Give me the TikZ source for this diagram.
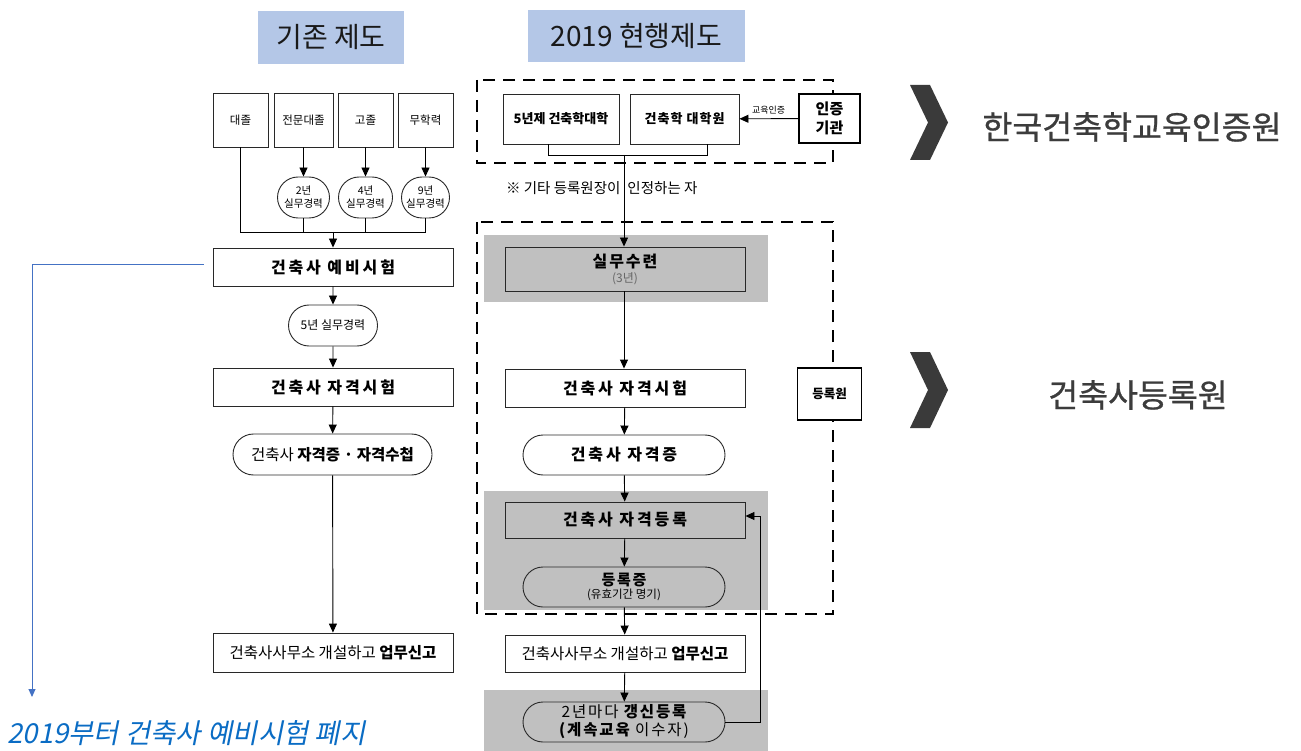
\documentclass[tikz,border=0pt]{standalone}
\usepackage{fontspec}
\setmainfont{Noto Sans CJK KR}
\newfontfamily\kr{Noto Sans CJK KR}
\newfontfamily\krsp{Noto Sans CJK KR}[LetterSpace=18]
\newfontfamily\krspb{Noto Sans CJK KR}[LetterSpace=12]
\newfontfamily\krsps{Noto Sans CJK KR}[LetterSpace=8]
\newfontfamily\krit{Noto Sans CJK KR}[FakeSlant=0.2]
\newfontfamily\krmed{Noto Sans CJK KR}[FakeBold=0.8]
\usetikzlibrary{arrows.meta,shapes.misc,calc}
\definecolor{titleblue}{RGB}{180,199,231}
\definecolor{bandgray}{RGB}{192,192,192}
\definecolor{boxline}{RGB}{40,40,40}
\definecolor{chevgray}{RGB}{58,58,58}
\definecolor{labelgray}{RGB}{60,60,60}
\definecolor{linkblue}{RGB}{68,114,196}
\definecolor{noteblue}{RGB}{10,108,196}
\newcommand{\fs}[1]{\fontsize{#1}{\the\dimexpr #1pt*12/10\relax}\selectfont}
\newcommand{\fsl}[2]{\fontsize{#1}{#2}\selectfont}
\tikzset{
  box/.style={draw=boxline, line width=0.9pt, inner sep=0pt, align=center},
  pill/.style={rounded rectangle, draw=boxline, line width=0.9pt, inner sep=0pt, align=center},
  arr/.style={-{Triangle[length=9pt,width=8pt]}, line width=0.9pt, draw=black},
  conn/.style={line width=0.9pt, draw=black},
  dashbox/.style={draw=black, line width=2.2pt, dash pattern=on 12pt off 8pt},
  band/.style={fill=bandgray, draw=none},
  titlebox/.style={fill=titleblue, inner sep=0pt, font=\kr\fs{28}, text=black!90},
  orglabel/.style={font=\krmed\fs{32.5}, text=labelgray},
  chev/.style={fill=chevgray},
  mainlabel/.style={font=\krsp\bfseries\fsl{16}{19}},
}
\begin{document}
\begin{tikzpicture}[x=1pt,y=-1pt]
\useasboundingbox (0,0) rectangle (1301,751);

% ---------- titles ----------
\node[titlebox, minimum width=146pt, minimum height=53pt] (t1) at (331,37.5) {기존 제도};
\node[titlebox, minimum width=217pt, minimum height=52pt] (t2) at (636.5,36) {2019 현행제도};

% ---------- right labels ----------
\fill[chev] (910,85) -- (930,85) -- (948,122.5) -- (930,160) -- (910,160) -- (928,122.5) -- cycle;
\node[orglabel] (org1) at (1132,127) {한국건축학교육인증원};
\fill[chev] (910,352) -- (930,352) -- (948,390) -- (930,428) -- (910,428) -- (928,390) -- cycle;
\node[orglabel] (org2) at (1138,395) {건축사등록원};

% ---------- left column ----------
\node[box, minimum width=55pt, minimum height=54pt, font=\kr\fs{11.5}] (daejol) at (240.5,120) {대졸};
\node[box, minimum width=59pt, minimum height=54pt, font=\kr\fs{11.5}] (jeonmun) at (303.5,120) {전문대졸};
\node[box, minimum width=55pt, minimum height=54pt, font=\kr\fs{11.5}] (gojol) at (365.5,120) {고졸};
\node[box, minimum width=55pt, minimum height=54pt, font=\kr\fs{11.5}] (muhak) at (425.5,120) {무학력};

\node[pill, minimum width=52pt, minimum height=41pt, font=\kr\fsl{10.5}{13}] (exp2) at (303.5,197.5) {2년\\실무경력};
\node[pill, minimum width=54pt, minimum height=41pt, font=\kr\fsl{10.5}{13}] (exp4) at (365.5,197.5) {4년\\실무경력};
\node[pill, minimum width=48pt, minimum height=41pt, font=\kr\fsl{10.5}{13}] (exp9) at (425.5,197.5) {9년\\실무경력};

\draw[arr] (jeonmun) -- (exp2);
\draw[arr] (gojol) -- (exp4);
\draw[arr] (muhak) -- (exp9);

\node[box, minimum width=240pt, minimum height=38pt, mainlabel] (prelim) at (333,267) {건축사 예비시험};
\coordinate (j) at (333,232);
\draw[conn] (daejol.south) -- (daejol.south |- j) -- (exp9.south |- j) -- (exp9.south);
\draw[conn] (exp2.south) -- (exp2.south |- j);
\draw[conn] (exp4.south) -- (exp4.south |- j);
\draw[arr] (j) -- (prelim.north);

\node[pill, minimum width=89pt, minimum height=41pt, font=\kr\fs{12}] (exp5) at (333,325.5) {5년 실무경력};
\node[box, minimum width=240pt, minimum height=38pt, mainlabel] (qual) at (333,387) {건축사 자격시험};
\node[pill, minimum width=199pt, minimum height=41pt, font=\kr\fs{15.5}] (cert) at (332.5,454.5) {건축사 {\bfseries 자격증 · 자격수첩}};
\node[box, minimum width=240pt, minimum height=39pt, font=\kr\fs{15.5}] (office) at (333,652.5) {건축사사무소 개설하고 {\bfseries 업무신고}};

\draw[arr] (prelim) -- (exp5);
\draw[arr] (exp5) -- (qual);
\draw[arr] (qual) -- (cert);
\draw[arr] (cert) -- (office);

% blue note
\coordinate (b0) at ($(prelim.west)+(-9,-2)$);
\coordinate (b1) at (32,265);
\coordinate (b2) at (32,697);
\draw[linkblue, line width=1pt, -{Triangle[length=8pt,width=7pt]}] (b0) -- (b1) -- (b2);
\node[font=\krit\fs{27.5}, text=noteblue, anchor=west] (note) at (4,733) {2019부터 건축사 예비시험 폐지};

% ---------- right column ----------
\fill[band] (484,235) rectangle (768,302);
\fill[band] (484,491) rectangle (768,610);
\fill[band] (484,690) rectangle (768,751);

\draw[dashbox] (477,80) rectangle (833,163);
\draw[dashbox] (477,222) rectangle (833,614);

\node[box, minimum width=116pt, minimum height=50pt, font=\kr\bfseries\fs{13}] (univ5) at (561,119) {5년제 건축학대학};
\node[box, minimum width=109pt, minimum height=50pt, font=\krsps\bfseries\fs{13}] (grad) at (684.5,119) {건축학 대학원};
\node[box, line width=2.2pt, draw=black, fill=white, minimum width=61pt, minimum height=49pt, font=\kr\bfseries\fsl{15}{19}] (accr) at (829.5,118.5) {인증\\기관};
\draw[arr] (accr) -- node[above=1pt, font=\kr\fs{9}] {교육인증} (grad);

\coordinate (br) at (624,155);
\draw[conn] ($(univ5.south)+(-13,0)$) -- ($(univ5.south)+(-13,11)$) -- ($(grad.south)+(22.5,11)$) -- ($(grad.south)+(22.5,0)$);
\node[font=\kr\fs{14.5}, inner sep=0pt] (other) at (624,188) {\llap{※ 기타 등록원장이\hspace{3.5pt}}\rlap{\hspace{3.5pt}인정하는 자}};

\node[box, minimum width=240pt, minimum height=44pt, align=center] (practice) at (625,269)
  {{\krspb\bfseries\fsl{16}{18}실무수련}\\[3pt]{\kr\fsl{12}{14}\color{black!60}(3년)}};
\draw[arr] (br) -- (practice.north -| br);

\node[box, minimum width=240pt, minimum height=38pt, fill=white, mainlabel] (rqual) at (625,388) {건축사 자격시험};
\node[pill, minimum width=202pt, minimum height=40pt, fill=white, mainlabel] (rcert) at (624,455) {건축사 자격증};
\node[box, minimum width=240pt, minimum height=36pt, mainlabel] (reg) at (625,520) {건축사 자격등록};
\node[pill, minimum width=202pt, minimum height=40pt] (regcert) at (624,587)
  {{\krspb\bfseries\fsl{15}{17}등록증}\\[1pt]{\kr\fsl{11.5}{13}(유효기간 명기)}};
\node[box, minimum width=240pt, minimum height=37pt, fill=white, font=\kr\fs{15.5}] (roffice) at (625,653.5) {건축사사무소 개설하고 {\bfseries 업무신고}};
\node[pill, minimum width=202pt, minimum height=40pt, font=\krspb\fsl{15.5}{18}] (renew) at (624,722)
  {2년마다 {\bfseries 갱신등록}\\{\bfseries (계속교육} 이수자)};

\node[box, line width=1.8pt, draw=black, fill=white, minimum width=64pt, minimum height=52pt, font=\kr\bfseries\fs{12.5}] (dangrok) at (829.5,394) {등록원};

\draw[arr] (practice.south -| br) -- (rqual.north -| br);
\draw[arr] (rqual) -- (rcert);
\draw[arr] (rcert) -- (reg);
\draw[arr] (reg) -- (regcert);
\draw[arr] (regcert) -- (roffice);
\draw[arr] (roffice) -- (renew);
\coordinate (fb) at (760,516);
\draw[arr] (renew.east) -| (fb) -- (reg.east |- fb);

\end{tikzpicture}
\end{document}
